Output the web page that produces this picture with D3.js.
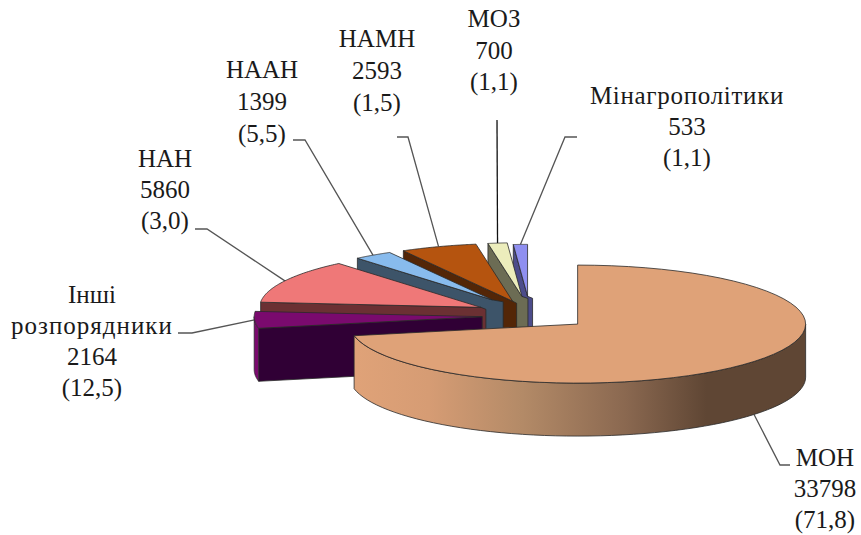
<!DOCTYPE html>
<html>
<head>
<meta charset="utf-8">
<script src="https://cdn.jsdelivr.net/npm/d3@7"></script>
<style>
  html, body { margin: 0; background: #fff; }
  text { font-family: "Liberation Serif", serif; font-size: 25px; fill: #1a1a1a; text-anchor: middle; }
</style>
</head>
<body>
<svg id="chart" width="861" height="535"></svg>
<script>
const names = ["МОН", "Інші розпорядники", "НАН", "НААН", "НАМН", "МОЗ", "Мінагрополітики"];
const values = [33798, 2164, 5860, 1399, 2593, 700, 533];
const shares = ["(71,8)", "(12,5)", "(3,0)", "(5,5)", "(1,5)", "(1,1)", "(1,1)"];

// how far each slice is pulled out, and how much the back ones shrink
const explode = [0.27, 0.21, 0.243, 0.292, 0.23, 0.3, 0.3];
const shrink = [1, 1, 0.97, 0.92, 0.98, 0.91, 0.88];
const drops = [0, 2, 0, 0, 0, 0, 0];
const tails = [0, 0, 5, 11, 4, 6, 5];

const topColors = ["#dfa278", "#7a0a6e", "#ef7878", "#88bbed", "#b5540f", "#ecedbc", "#8f8ff0"];
const wallColors = ["#dfa278", "#300035", "#6b3033", "#3d5469", "#532607", "#6c6c54", "#4c4c8a"];

const gradStops = [[0, "#dfa278"], [0.16, "#d69c74"], [0.37, "#b38a67"], [0.6, "#8a6850"], [0.78, "#5f4634"], [1, "#5f4634"]];

// text blocks: centre x, first baseline, line step; elbow = leader start and bend
const labels = [
  {lines: ["МОН", "33798", "(71,8)"], x: 825, y: 466, dy: 31, elbow: [[790, 465], [780, 465]], front: true},
  {lines: ["Інші", "розпорядники", "2164", "(12,5)"], x: 92, y: 303, dy: 31, elbow: [[178, 333], [192, 333]], spacing: [0, 1, 0, 0]},
  {lines: ["НАН", "5860", "(3,0)"], x: 165, y: 167, dy: 31, elbow: [[195, 229], [207, 229]]},
  {lines: ["НААН", "1399", "(5,5)"], x: 262, y: 78, dy: 32, elbow: [[293, 140], [305, 140]]},
  {lines: ["НАМН", "2593", "(1,5)"], x: 377, y: 47, dy: 32, elbow: [[397, 137], [408, 137]]},
  {lines: ["МОЗ", "700", "(1,1)"], x: 494, y: 27, dy: 31.5, elbow: [[497, 120]]},
  {lines: ["Мінагрополітики", "533", "(1,1)"], x: 687, y: 104, dy: 31, elbow: [[577, 137], [565, 137]], spacing: [0.7, 0, 0]}
];

const cx = 530, cy = 314, rx = 228, ry = 59, depth = 53;

const xUnit = d3.scaleLinear().domain([-1, 1]).range([-rx, rx]);
const yUnit = d3.scaleLinear().domain([-1, 1]).range([-ry, ry]);
const line = d3.line();

const svg = d3.select("#chart");

const grad = svg.append("defs").append("linearGradient")
  .attr("id", "rimGrad")
  .attr("gradientUnits", "userSpaceOnUse")
  .attr("x1", 357).attr("x2", 805).attr("y1", 0).attr("y2", 0);
grad.selectAll("stop")
  .data(gradStops)
  .enter()
  .append("stop")
  .attr("offset", d => d[0])
  .attr("stop-color", d => d[1]);

const slices = d3.pie().sort(null).value(d => d)(values).map((d, i) => {
  const mid = (d.startAngle + d.endAngle) / 2;
  return {
    i: i,
    a0: d.startAngle,
    a1: d.endAngle,
    mid: mid,
    k: shrink[i],
    tail: tails[i],
    ax: cx + explode[i] * xUnit(Math.sin(mid)),
    ay: cy + explode[i] * yUnit(-Math.cos(mid)) + drops[i]
  };
});

const rimPoint = (s, t, down) => [
  s.ax + s.k * xUnit(Math.sin(t)),
  s.ay + s.k * yUnit(-Math.cos(t)) + (down || 0)
];

const sample = (a, b) => d3.range(0, 61).map(n => a + (b - a) * n / 60);

// leaders go under the pie
const leaders = svg.append("g");
labels.forEach((lab, i) => {
  const s = slices[i];
  const end = rimPoint(s, s.mid, lab.front ? depth : 0);
  leaders.append("path")
    .attr("d", line(lab.elbow.concat([end])))
    .attr("fill", "none")
    .attr("stroke", i == 5 ? "#111" : "#555")
    .attr("stroke-width", 1.3);
});

const pie = svg.append("g");
const edge = "#2a2a2a";

// back slices first, MOH last
slices.slice().reverse().forEach(s => {
  const g = pie.append("g");
  const fill = s.i == 0 ? "url(#rimGrad)" : wallColors[s.i];

  // radial wall at the start angle
  if (s.i != 0) {
    const rim = rimPoint(s, s.a0);
    const tip = [s.ax + s.tail, s.ay + (s.tail ? 2 : 0)];
    const wall = [rim, [s.ax, s.ay], tip, [tip[0], tip[1] + depth], [rim[0], rim[1] + depth]];
    g.append("path")
      .attr("d", line(wall) + "Z")
      .attr("fill", wallColors[s.i])
      .attr("stroke", edge)
      .attr("stroke-width", 0.8);
  }

  // outer rim, only the front half shows
  const from = Math.max(s.a0, Math.PI / 2);
  const to = Math.min(s.a1, Math.PI * 1.5);
  if (to > from) {
    const angles = sample(from, to);
    const outer = angles.map(t => rimPoint(s, t)).concat(angles.slice().reverse().map(t => rimPoint(s, t, depth)));
    g.append("path")
      .attr("d", line(outer) + "Z")
      .attr("fill", s.i == 1 ? topColors[1] : fill)
      .attr("stroke", edge)
      .attr("stroke-width", 0.8);
  }

  // top face
  const face = [[s.ax, s.ay]].concat(sample(s.a0, s.a1).map(t => rimPoint(s, t)));
  g.append("path")
    .attr("d", line(face) + "Z")
    .attr("fill", topColors[s.i])
    .attr("stroke", edge)
    .attr("stroke-width", 0.8);
});

labels.forEach(lab => {
  svg.append("g")
    .selectAll("text")
    .data(lab.lines)
    .enter()
    .append("text")
    .attr("x", lab.x)
    .attr("y", (d, i) => lab.y + i * lab.dy)
    .style("letter-spacing", (d, i) => lab.spacing ? lab.spacing[i] + "px" : null)
    .text(d => d);
});
</script>
</body>
</html>
